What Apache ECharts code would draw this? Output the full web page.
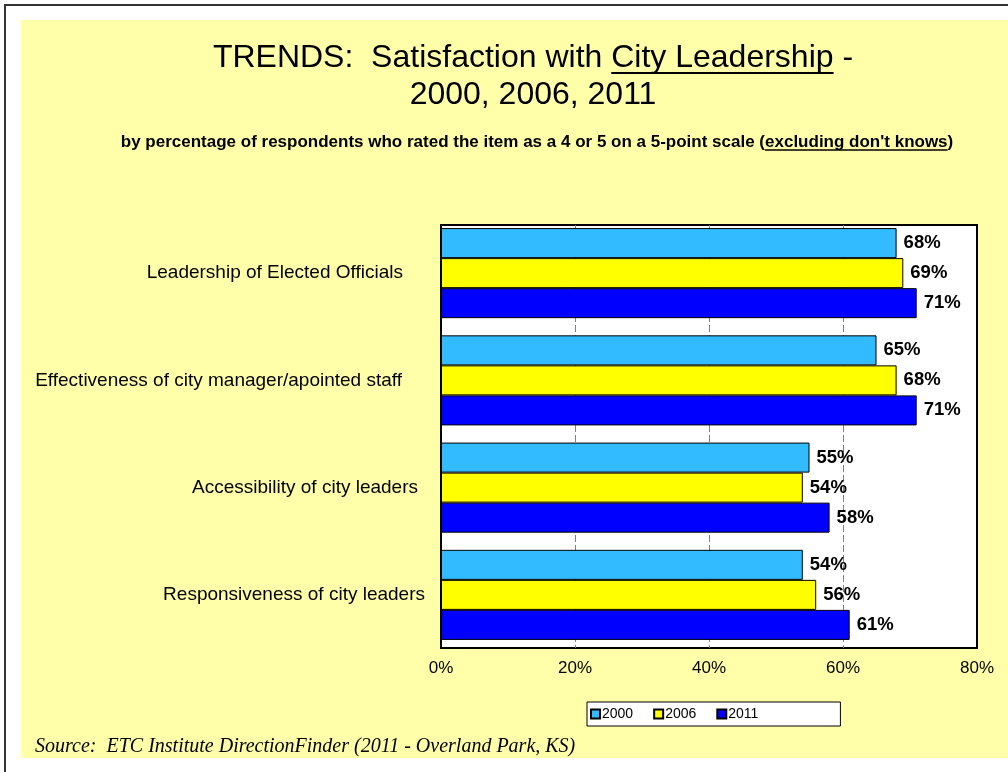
<!DOCTYPE html>
<html>
<head>
<meta charset="utf-8">
<script src="https://cdn.jsdelivr.net/npm/echarts@6/dist/echarts.min.js"></script>
<style>
  html, body { margin:0; padding:0; background:#fff; }
  #wrap { position:relative; width:1008px; height:772px; overflow:hidden; background:#fff; }
  #frame { position:absolute; left:4px; top:4px; right:-10px; bottom:-10px; border-left:2px solid #333; border-top:2px solid #333; }
  #paper { position:absolute; left:21px; top:20px; right:0; bottom:14px; background:#FFFFAA; }
  #chart { position:absolute; left:0; top:0; width:1008px; height:772px; }
</style>
</head>
<body>
<div id="wrap">
  <div id="frame"></div>
  <div id="paper"></div>
  <div id="chart"></div>
</div>
<script>
// ---- data ----
const categories = [
  'Leadership of Elected Officials',
  'Effectiveness of city manager/apointed staff',
  'Accessibility of city leaders',
  'Responsiveness of city leaders'
];
const seriesNames = ['2000', '2006', '2011'];
const values2000 = [68, 65, 55, 54];
const values2006 = [69, 68, 54, 56];
const values2011 = [71, 71, 58, 61];
const xTicks = [0, 20, 40, 60, 80];

const titleLine1 = 'TRENDS:  Satisfaction with City Leadership -';
const titleUnderlined1 = 'City Leadership';
const titleLine2 = '2000, 2006, 2011';
const subtitleText = "by percentage of respondents who rated the item as a 4 or 5 on a 5-point scale (excluding don't knows)";
const subtitleUnderlined = "excluding don't knows";
const sourceText = 'Source:  ETC Institute DirectionFinder (2011 - Overland Park, KS)';

// ---- styles ----
const SANS = "'Liberation Sans', Arial, sans-serif";
const SERIF = "'Liberation Serif', 'Times New Roman', serif";
const colors = ['#33BBFF', '#FFFF00', '#0000FF'];
// right padding of each category label (the original labels are not all flush)
const labelPadRight = [22, 23, 7, 0];

const mctx = document.createElement('canvas').getContext('2d');
function measure(text, font) { mctx.font = font; return mctx.measureText(text).width; }

function underlineFor(full, part, font, cx, y, lw) {
  const w = measure(full, font);
  const idx = full.indexOf(part);
  const pre = measure(full.slice(0, idx), font);
  const pw = measure(part, font);
  const x0 = cx - w / 2 + pre;
  return {
    type: 'line', silent: true,
    shape: { x1: x0, y1: y, x2: x0 + pw, y2: y },
    style: { stroke: '#000', lineWidth: lw }
  };
}

const titleFont = '32px ' + SANS;
const subFont = 'bold 17px ' + SANS;
const titleCx = 533, t1y = 58, t2y = 95;
const subCx = 537, subY = 142;

const chart = echarts.init(document.getElementById('chart'), null, { renderer: 'canvas' });

const rich = {};
labelPadRight.forEach((p, i) => { rich['p' + i] = { fontSize: 19, color: '#000', fontFamily: SANS, padding: [0, p, 0, 0] }; });

const seriesData = [values2000, values2006, values2011];
const option = {
  backgroundColor: 'transparent',
  animation: false,
  textStyle: { fontFamily: SANS },
  grid: [
    { left: 441, right: 31, top: 219.5, bottom: 123.5, show: false },
    { left: 441, right: 31, top: 225, bottom: 124, show: true, backgroundColor: '#fff', borderColor: '#000', borderWidth: 2, z: 0 }
  ],
  xAxis: [
    { gridIndex: 0, type: 'value', min: xTicks[0], max: xTicks[xTicks.length - 1], interval: 20,
      axisLabel: { show: false }, axisLine: { show: false }, axisTick: { show: false }, splitLine: { show: false } },
    { gridIndex: 1, type: 'value', min: xTicks[0], max: xTicks[xTicks.length - 1], interval: 20,
      axisLabel: { show: true, formatter: '{value}%', fontSize: 17, color: '#000', fontFamily: SANS, margin: 12 },
      axisLine: { show: false }, axisTick: { show: false },
      splitLine: { show: true, showMinLine: false, showMaxLine: false, lineStyle: { color: '#808080', width: 1, type: [7, 3] } } }
  ],
  yAxis: [
    { gridIndex: 0, type: 'category', data: categories, inverse: true,
      axisLine: { show: false }, axisTick: { show: false }, splitLine: { show: false },
      axisLabel: { fontSize: 19, color: '#000', fontFamily: SANS, margin: 16,
        formatter: (v, i) => '{p' + i + '|' + v + '}', rich: rich } },
    { gridIndex: 1, type: 'value', show: false, splitLine: { show: false } }
  ],
  legend: {
    data: seriesNames,
    left: 587, top: 702,
    orient: 'horizontal',
    backgroundColor: '#fff', borderColor: '#000', borderWidth: 1,
    padding: [5, 82, 5, 3],
    itemWidth: 9, itemHeight: 9, itemGap: 20,
    icon: 'rect',
    textStyle: { fontSize: 14, color: '#000', fontFamily: SANS, padding: [0, 0, 0, -3] }
  },
  series: seriesNames.map((name, i) => ({
    name: name,
    type: 'bar',
    xAxisIndex: 0, yAxisIndex: 0,
    data: seriesData[i],
    barGap: '0%',
    barCategoryGap: '16%',
    z: 3,
    itemStyle: { color: colors[i], borderColor: '#000', borderWidth: 1 },
    label: {
      show: true, position: 'right', distance: 7,
      formatter: '{c}%', fontWeight: 'bold', fontSize: 18.5, color: '#000', fontFamily: SANS
    }
  })),
  graphic: [
    { type: 'text', silent: true, x: titleCx, y: t1y,
      style: { text: titleLine1, font: titleFont, fill: '#000', align: 'center', verticalAlign: 'middle' } },
    underlineFor(titleLine1, titleUnderlined1, titleFont, titleCx, t1y + 15, 2),
    { type: 'text', silent: true, x: titleCx, y: t2y,
      style: { text: titleLine2, font: titleFont, fill: '#000', align: 'center', verticalAlign: 'middle' } },
    { type: 'text', silent: true, x: subCx, y: subY,
      style: { text: subtitleText, font: subFont, fill: '#000', align: 'center', verticalAlign: 'middle' } },
    underlineFor(subtitleText, subtitleUnderlined, subFont, subCx, subY + 8, 1.5),
    { type: 'text', silent: true, x: 35, y: 747,
      style: { text: sourceText, font: 'italic 20px ' + SERIF, fill: '#000', align: 'left', verticalAlign: 'middle' } }
  ]
};
chart.setOption(option);
</script>
</body>
</html>
